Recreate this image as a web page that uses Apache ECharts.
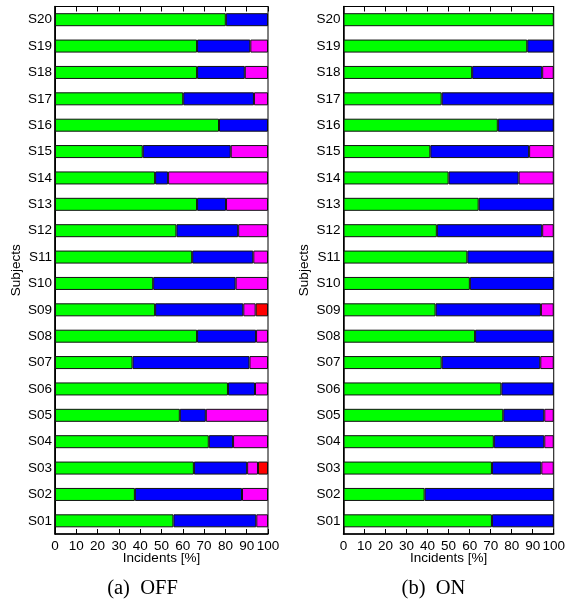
<!DOCTYPE html>
<html>
<head>
<meta charset="utf-8">
<script src="https://cdn.jsdelivr.net/npm/echarts@6/dist/echarts.min.js"></script>
<style>
html,body{margin:0;padding:0;background:#fff;}
#chart{width:568px;height:606px;}
</style>
</head>
<body>
<div id="chart"></div>
<script>
var categories = ['S01','S02','S03','S04','S05','S06','S07','S08','S09','S10','S11','S12','S13','S14','S15','S16','S17','S18','S19','S20'];
var xTicks = [0,10,20,30,40,50,60,70,80,90,100];

// (a) OFF
var offGreen   = [55.6,37.5,65.2,72.2,58.6,81.2,36.4,66.7,47.0,46.1,64.4,57.0,66.7,47.0,41.2,77.0,60.2,66.7,66.7,80.2];
var offBlue    = [38.9,50.3,25.0,11.4,12.2,12.7,54.9,27.7,41.4,38.7,28.7,29.0,13.6,6.1,41.3,23.0,33.2,22.4,25.0,19.8];
var offMagenta = [5.5,12.2,5.1,16.4,29.2,6.1,8.7,5.6,5.8,15.2,6.9,14.0,19.7,46.9,17.5,0,6.6,10.9,8.3,0];
var offRed     = [0,0,4.7,0,0,0,0,0,5.8,0,0,0,0,0,0,0,0,0,0,0];

// (b) ON
var onGreen    = [70.6,38.6,70.6,71.5,76.0,75.1,46.7,62.6,43.8,60.1,58.9,44.4,64.3,50.0,41.3,73.4,46.7,61.2,87.4,100];
var onBlue     = [29.4,61.4,23.5,24.0,19.5,24.9,46.9,37.4,50.1,39.9,41.1,50.1,35.7,33.3,47.0,26.6,53.3,33.3,12.6,0];
var onMagenta  = [0,0,5.9,4.5,4.5,0,6.4,0,6.1,0,0,5.5,0,16.7,11.7,0,0,5.5,0,0];

var captions = ['(a)\u2002OFF', '(b)\u2002ON'];

var FONT = '"Liberation Sans", Arial, Helvetica, sans-serif';
var TXT = '#000';

function clean(arr){ return arr.map(function(v){ return v === 0 ? '-' : v; }); }

var grids = [
  {left:55, top:6.5, width:213, height:527.5, show:true, borderColor:'#000', borderWidth:1, backgroundColor:'transparent'},
  {left:343.5, top:6.5, width:213.5, height:527.5, show:true, borderColor:'#000', borderWidth:1, backgroundColor:'transparent'}
];

var xAxes = [], yAxes = [];
[0,1].forEach(function(g){
  xAxes.push({
    gridIndex:g, type:'value', min:xTicks[0], max:xTicks[xTicks.length-1], interval:xTicks[1]-xTicks[0], position:'bottom',
    axisLine:{show:true, lineStyle:{color:'#000', width:1.5}},
    axisTick:{show:true, inside:true, length:5, lineStyle:{color:'#000', width:1}},
    axisLabel:{show:true, margin:5, fontSize:13.5, fontFamily:FONT, color:TXT},
    splitLine:{show:false},
    name:'Incidents [%]', nameLocation:'middle', nameGap:17, nameMoveOverlap:false,
    nameTextStyle:{fontSize:13.5, fontFamily:FONT, color:TXT}
  });
  xAxes.push({
    gridIndex:g, type:'value', min:xTicks[0], max:xTicks[xTicks.length-1], interval:xTicks[1]-xTicks[0], position:'top',
    axisLine:{show:true, lineStyle:{color:'#000', width:1}},
    axisTick:{show:true, inside:true, length:5, lineStyle:{color:'#000', width:1}},
    axisLabel:{show:false}, splitLine:{show:false}
  });
  yAxes.push({
    gridIndex:g, type:'category', data:categories, position:'left',
    axisLine:{show:true, lineStyle:{color:'#000', width:1.5}},
    axisTick:{show:false},
    axisLabel:{margin:3, fontSize:13.5, fontFamily:FONT, color:TXT},
    splitLine:{show:false},
    name:'Subjects', nameLocation:'middle', nameGap:32, nameRotate:90, nameMoveOverlap:false,
    nameTextStyle:{fontSize:13.5, fontFamily:FONT, color:TXT}
  });
  yAxes.push({
    gridIndex:g, type:'category', data:categories, position:'right',
    axisLine:{show:true, lineStyle:{color:'#000', width:1}},
    axisTick:{show:false}, axisLabel:{show:false}, splitLine:{show:false}
  });
});

function barSeries(name, data, color, xi, yi, stack){
  return {
    name:name, type:'bar', stack:stack, data:clean(data),
    xAxisIndex:xi, yAxisIndex:yi, barWidth:13,
    itemStyle:{color:color, borderColor:'#111', borderWidth:1},
    emphasis:{disabled:true}, animation:false, z:2
  };
}

var series = [
  barSeries('OFF green', offGreen, '#00ff00', 0, 0, 'off'),
  barSeries('OFF blue', offBlue, '#0000ff', 0, 0, 'off'),
  barSeries('OFF magenta', offMagenta, '#ff00ff', 0, 0, 'off'),
  barSeries('OFF red', offRed, '#ff0000', 0, 0, 'off'),
  barSeries('ON green', onGreen, '#00ff00', 2, 2, 'on'),
  barSeries('ON blue', onBlue, '#0000ff', 2, 2, 'on'),
  barSeries('ON magenta', onMagenta, '#ff00ff', 2, 2, 'on')
];

var CAPFONT = '20.5px "Liberation Serif", "Times New Roman", serif';
var chart = echarts.init(document.getElementById('chart'), null, {renderer:'canvas'});
chart.setOption({
  animation:false,
  backgroundColor:'#fff',
  grid:grids,
  xAxis:xAxes,
  yAxis:yAxes,
  series:series,
  graphic:[
    {type:'text', x:142.5, y:589, style:{text:captions[0], font:CAPFONT, fill:'#000', textAlign:'center', textVerticalAlign:'middle'}},
    {type:'text', x:433.5, y:589, style:{text:captions[1], font:CAPFONT, fill:'#000', textAlign:'center', textVerticalAlign:'middle'}}
  ]
});
</script>
</body>
</html>
